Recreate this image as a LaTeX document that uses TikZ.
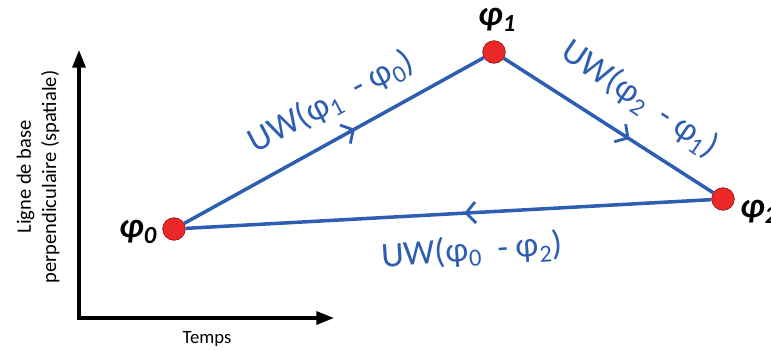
\documentclass[tikz,border=0pt]{standalone}
\usepackage{fontspec}
\setmainfont{Carlito}
\usetikzlibrary{arrows.meta,decorations.markings}
\definecolor{uwblue}{RGB}{46,94,178}
\definecolor{dotred}{RGB}{236,40,40}
\begin{document}
\begin{tikzpicture}[x=0.03cm, y=-0.03cm,
        every node/.style={font=\fontsize{17.5}{21.5}\selectfont},
        dot/.style={circle, draw=red!45!black, thin, fill=dotred, minimum size=0.68cm, inner sep=0pt},
        phase/.style={font=\fontsize{30}{33}\selectfont\bfseries\itshape},
        uwlabel/.style={text=uwblue, font=\fontsize{30}{34}\selectfont},
        uwedge/.style={draw=uwblue, color=uwblue, line width=3pt, postaction=decorate,
            decoration={markings, mark=at position #1 with {\arrow{Straight Barb[length=8pt, width=18pt, line width=2.4pt]}}}},
        axis/.style={line width=2.8pt, line join=miter,
            {Triangle[length=15pt, width=11pt]}-{Triangle[length=15pt, width=11pt]}}]
        \useasboundingbox (0,0) rectangle (771,350);
        % axes
        \coordinate (o)    at (79,318);
        \coordinate (yend) at (79,50);
        \coordinate (xend) at (334,318);
        \draw[axis] (yend) -- (o) -- (xend);
        \node[font=\fontsize{16}{20}\selectfont] (temps) at (207,339) {Temps};
        \node[rotate=90, align=center] (ylab) at (38,177) {Ligne de base\\perpendiculaire (spatiale)};
        % phases
        \node[dot] (p0) at (174,229) {};
        \node[dot] (p1) at (494,52)  {};
        \node[dot] (p2) at (723,199) {};
        \node[phase] (l0) at (138,232) {φ\textsubscript{0}};
        \node[phase] (l1) at (497,20)  {φ\textsubscript{1}};
        \node[phase] (l2) at (759,212) {φ\textsubscript{2}};
        % unwrapped differences
        \draw[uwedge=0.57] (p0) -- (p1);
        \draw[uwedge=0.60] (p1) -- (p2);
        \draw[uwedge=0.47] (p2) -- (p0);
        \node[uwlabel, rotate=28]  (uw10) at (331,102) {UW(φ\textsubscript{1}\ \ - φ\textsubscript{0})};
        \node[uwlabel, rotate=-34] (uw21) at (640,99)  {UW(φ\textsubscript{2}\ \ - φ\textsubscript{1})};
        \node[uwlabel, rotate=4]   (uw02) at (472,251) {UW(φ\textsubscript{0}\ \ - φ\textsubscript{2})};
    \end{tikzpicture}
\end{document}
